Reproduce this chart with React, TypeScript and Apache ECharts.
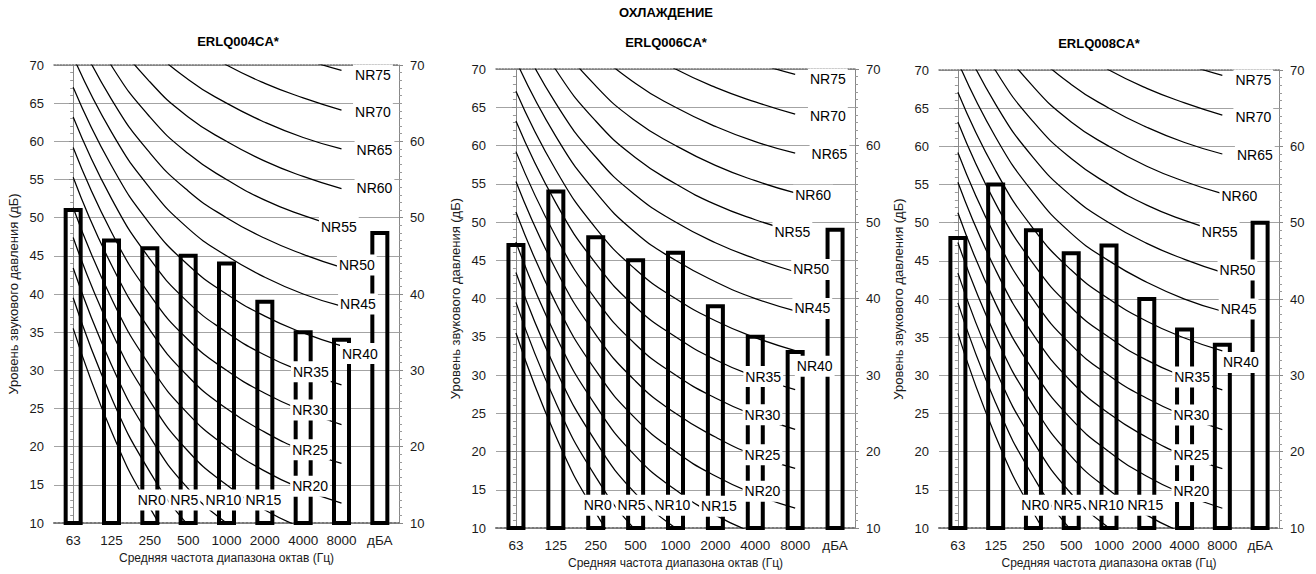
import React, { useEffect, useRef } from 'react';
import * as echarts from 'echarts';

// ---------- data ----------
const CATEGORIES = ['63', '125', '250', '500', '1000', '2000', '4000', '8000', 'дБА'];
const MAIN_TITLE = 'ОХЛАЖДЕНИЕ';
const MODELS = ['ERLQ004CA*', 'ERLQ006CA*', 'ERLQ008CA*'];
const ERLQ004CA = [51, 47, 46, 45, 44, 39, 35, 34, 48];
const ERLQ006CA = [47, 54, 48, 45, 46, 39, 35, 33, 49];
const ERLQ008CA = [48, 55, 49, 46, 47, 40, 36, 34, 50];
const MODEL_VALUES = [ERLQ004CA, ERLQ006CA, ERLQ008CA];

// NR curves, 63 Hz ... 8000 Hz
const NR0 = [35.5, 22.0, 12.0, 4.8, 0.0, -3.5, -6.1, -8.0];
const NR5 = [39.5, 26.4, 16.7, 9.7, 5.0, 1.6, -1.0, -2.9];
const NR10 = [43.4, 30.7, 21.3, 14.5, 10.0, 6.7, 4.2, 2.3];
const NR15 = [47.4, 35.1, 26.0, 19.4, 15.0, 11.7, 9.3, 7.5];
const NR20 = [51.3, 39.4, 30.6, 24.3, 20.0, 16.8, 14.4, 12.6];
const NR25 = [55.3, 43.8, 35.3, 29.2, 25.0, 21.9, 19.5, 17.8];
const NR30 = [59.2, 48.1, 39.9, 34.0, 30.0, 27.0, 24.7, 22.9];
const NR35 = [63.2, 52.5, 44.6, 38.9, 35.0, 32.0, 29.8, 28.1];
const NR40 = [67.1, 56.8, 49.2, 43.8, 40.0, 37.1, 34.9, 33.2];
const NR45 = [71.1, 61.2, 53.9, 48.6, 45.0, 42.2, 40.0, 38.4];
const NR50 = [75.0, 65.5, 58.5, 53.5, 50.0, 47.3, 45.2, 43.5];
const NR55 = [79.0, 69.9, 63.2, 58.4, 55.0, 52.3, 50.3, 48.7];
const NR60 = [82.9, 74.2, 67.8, 63.2, 60.0, 57.4, 55.4, 53.8];
const NR65 = [86.9, 78.6, 72.5, 68.1, 65.0, 62.5, 60.5, 59.0];
const NR70 = [90.8, 82.9, 77.1, 73.0, 70.0, 67.6, 65.7, 64.1];
const NR75 = [94.8, 87.3, 81.8, 77.9, 75.0, 72.6, 70.8, 69.3];
const NR_LEVELS = [0, 5, 10, 15, 20, 25, 30, 35, 40, 45, 50, 55, 60, 65, 70, 75];
const NR_CURVES = [NR0, NR5, NR10, NR15, NR20, NR25, NR30, NR35, NR40, NR45, NR50, NR55, NR60, NR65, NR70, NR75];

const Y_NAME = 'Уровень звукового давления (дБ)';
const X_NAME = 'Средняя частота диапазона октав (Гц)';

// ---------- layout ----------
const FONT = '"Liberation Sans", Arial, sans-serif';
const GRIDS = [
  { left: 54, top: 65, width: 345, height: 458 },
  { left: 496, top: 69, width: 359, height: 462 },
  { left: 939, top: 70, width: 340, height: 459 },
];
const TITLE_POS = [[238, 41], [666, 42], [1099, 43]];
const MAIN_TITLE_POS = [666, 12];
// label anchor (x in category index units, y in dB) for each NR level
const LABEL_POS: Record<number, [number, number]> = {
  0: [2.05, 13.0], 5: [2.9, 13.0], 10: [3.92, 13.0], 15: [4.96, 13.0],
  20: [6.18, 14.8], 25: [6.18, 19.6], 30: [6.18, 24.8], 35: [6.2, 29.8],
  40: [7.49, 31.7], 45: [7.43, 38.7], 50: [7.4, 43.8], 55: [6.93, 48.75],
  60: [7.45, 53.5], 65: [7.86, 58.85], 70: [7.82, 63.85], 75: [7.82, 68.7],
};
const LABEL_OVERRIDES: Array<Record<number, [number, number]>> = [
  { 60: [7.86, 53.9], 40: [7.48, 32.2] },
  { 40: [7.49, 31.15], 15: [5.09, 12.85] },
  {},
];

function buildOption() {
  const xAxis: any[] = [];
  const yAxis: any[] = [];
  const series: any[] = [];
  const textStyle = { color: '#1a1a1a', fontSize: 13, fontFamily: FONT };

  GRIDS.forEach((_, p) => {
    xAxis.push({
      type: 'category', gridIndex: p, data: CATEGORIES, boundaryGap: true,
      axisLine: { show: true, lineStyle: { color: '#777', width: 2, type: 'dotted' } },
      axisTick: { show: false },
      axisLabel: { ...textStyle, fontSize: 13.5, margin: 10, interval: 0 },
      splitLine: { show: false },
      name: X_NAME, nameLocation: 'middle', nameGap: 28,
      nameTextStyle: { color: '#1a1a1a', fontSize: 12, fontFamily: FONT },
    });
    xAxis.push({
      type: 'value', gridIndex: p, min: -0.5, max: 8.5, position: 'top',
      axisLine: { show: true, lineStyle: { color: '#777', width: 1.5, type: 'dotted' } },
      axisTick: { show: false }, axisLabel: { show: false }, splitLine: { show: false },
    });
    yAxis.push({
      type: 'value', gridIndex: p, min: 10, max: 70, interval: 5, position: 'left',
      axisLine: { show: true, lineStyle: { color: '#888', width: 1 } },
      axisTick: { show: true, length: 4, lineStyle: { color: '#888' } },
      minorTick: { show: true, splitNumber: 5, length: 3, lineStyle: { color: '#999' } },
      splitLine: { show: true, lineStyle: { color: '#a3a3a3', width: 1 } },
      axisLabel: { ...textStyle, margin: 10 },
      name: Y_NAME, nameLocation: 'middle', nameGap: 34, nameRotate: 90,
      nameTextStyle: { color: '#1a1a1a', fontSize: 13, fontFamily: FONT },
    });
    yAxis.push({
      type: 'value', gridIndex: p, min: 10, max: 70, interval: 10, position: 'right',
      axisLine: { show: true, lineStyle: { color: '#888', width: 1 } },
      axisTick: { show: true, length: 4, lineStyle: { color: '#888' } },
      minorTick: { show: true, splitNumber: 10, length: 3, lineStyle: { color: '#999' } },
      splitLine: { show: false },
      axisLabel: { ...textStyle, margin: 11 },
    });

    // NR curves
    NR_CURVES.forEach((curve, k) => {
      series.push({
        type: 'line', name: 'NR' + NR_LEVELS[k], xAxisIndex: 2 * p + 1, yAxisIndex: 2 * p,
        data: curve.map((v, i) => [i, v]), smooth: 0.5,
        symbol: 'none', silent: true, z: 2, clip: true,
        lineStyle: { color: '#000', width: 1.25 },
      });
    });

    // bars (hollow, thick outline)
    series.push({
      type: 'custom', xAxisIndex: 2 * p, yAxisIndex: 2 * p, z: 3, silent: true,
      data: MODEL_VALUES[p].map((v, i) => [i, v]),
      encode: { x: 0, y: 1 },
      renderItem: (params: any, api: any) => {
        const i = api.value(0);
        const v = api.value(1);
        const top = api.coord([i, v]);
        const base = api.coord([i, 10]);
        const w = 15;
        return {
          type: 'rect',
          shape: { x: top[0] - w / 2, y: top[1], width: w, height: base[1] - top[1] },
          style: { fill: 'none', stroke: '#000', lineWidth: 4 },
        };
      },
    });

    // NR labels with white boxes
    const ov = LABEL_OVERRIDES[p];
    series.push({
      type: 'scatter', xAxisIndex: 2 * p + 1, yAxisIndex: 2 * p, z: 6, silent: true,
      symbolSize: 1, itemStyle: { color: 'transparent', opacity: 1 },
      data: NR_LEVELS.map((lvl) => ({ name: 'NR' + lvl, value: ov[lvl] || LABEL_POS[lvl] })),
      label: {
        show: true, position: 'inside', formatter: '{b}', opacity: 1,
        fontSize: 14, fontFamily: FONT, color: '#000',
        backgroundColor: '#ffffff', padding: [4, 2, 3, 2],
      },
    });
  });

  const graphic: any[] = [
    {
      type: 'text', x: MAIN_TITLE_POS[0], y: MAIN_TITLE_POS[1],
      style: { text: MAIN_TITLE, fontSize: 13, fontWeight: 'bold', fontFamily: FONT, fill: '#000', align: 'center', verticalAlign: 'middle' },
    },
    ...MODELS.map((m, p) => ({
      type: 'text', x: TITLE_POS[p][0], y: TITLE_POS[p][1],
      style: { text: m, fontSize: 13, fontWeight: 'bold', fontFamily: FONT, fill: '#000', align: 'center', verticalAlign: 'middle' },
    })),
  ];

  return {
    animation: false,
    backgroundColor: '#fff',
    grid: GRIDS.map((g) => ({ ...g, containLabel: false })),
    xAxis, yAxis, series, graphic,
  };
}

export default function App() {
  const ref = useRef<HTMLDivElement>(null);
  useEffect(() => {
    document.body.style.margin = '0';
    if (!ref.current) return;
    const chart = echarts.init(ref.current, undefined, { renderer: 'svg' });
    chart.setOption(buildOption() as any);
    return () => chart.dispose();
  }, []);
  return <div ref={ref} style={{ position: 'fixed', left: 0, top: 0, width: 1316, height: 574 }} />;
}
